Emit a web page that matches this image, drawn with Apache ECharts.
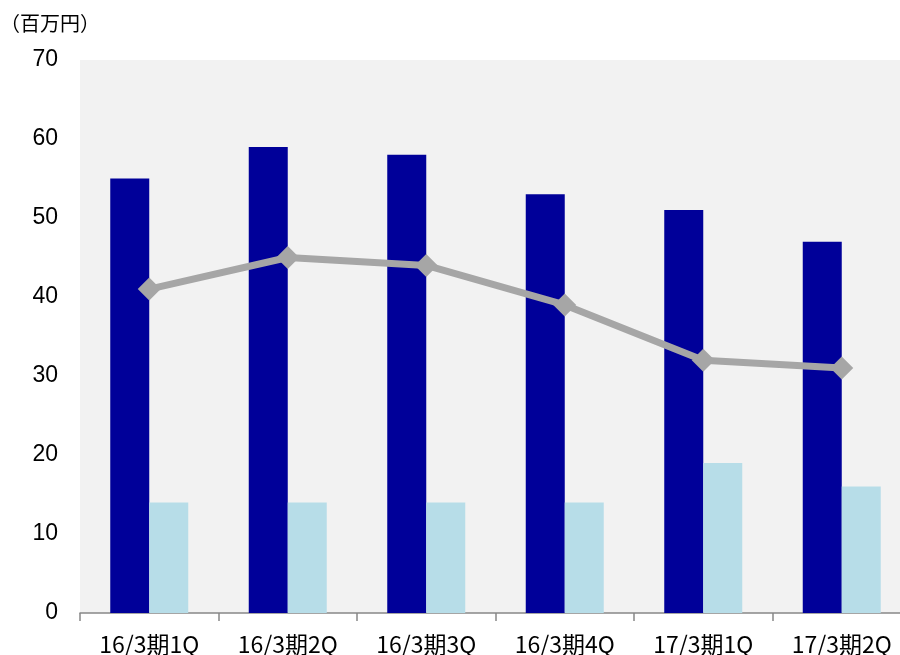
<!DOCTYPE html>
<html>
<head>
<meta charset="utf-8">
<script src="https://cdn.jsdelivr.net/npm/echarts@6/dist/echarts.min.js"></script>
<style>
  html, body { margin: 0; padding: 0; background: #fff; }
  #chart { width: 900px; height: 655px; }
</style>
</head>
<body>
<div id="chart"></div>
<script>
var categories = ['16/3期1Q', '16/3期2Q', '16/3期3Q', '16/3期4Q', '17/3期1Q', '17/3期2Q'];
var darkBars = [55, 59, 58, 53, 51, 47];
var lightBars = [14, 14, 14, 14, 19, 16];
var lineValues = [41, 45, 44, 39, 32, 31];

var myChart = echarts.init(document.getElementById('chart'));

option = {
    animation: false,
    title: {
        text: '（百万円）',
        left: 0,
        top: 13,
        padding: 0,
        textStyle: {
            fontSize: 20,
            fontWeight: 'normal',
            fontFamily: '"Noto Sans CJK JP"',
            color: '#000'
        }
    },
    grid: {
        left: 80,
        width: 831,
        top: 60,
        height: 553,
        outerBoundsMode: 'none',
        show: true,
        backgroundColor: '#f2f2f2',
        borderWidth: 0
    },
    xAxis: {
        type: 'category',
        data: categories,
        axisLine: { lineStyle: { color: '#888', width: 1.5 } },
        axisTick: { show: true, length: 8, lineStyle: { color: '#888', width: 1.5 } },
        axisLabel: {
            color: '#000',
            fontSize: 23,
            fontFamily: '"Noto Sans CJK JP"',
            margin: 20
        }
    },
    yAxis: {
        type: 'value',
        min: 0,
        max: 70,
        interval: 10,
        splitLine: { show: false },
        axisLine: { show: false },
        axisTick: { show: false },
        axisLabel: {
            color: '#000',
            fontSize: 23,
            fontFamily: '"Liberation Sans", Arial',
            margin: 22
        }
    },
    series: [
        {
            type: 'bar',
            data: darkBars,
            barWidth: 39,
            barGap: '0%',
            itemStyle: { color: '#000099' }
        },
        {
            type: 'bar',
            data: lightBars,
            barWidth: 39,
            barGap: '0%',
            itemStyle: { color: '#b7dde8' }
        },
        {
            type: 'line',
            data: lineValues,
            symbol: 'diamond',
            symbolSize: [23, 23],
            lineStyle: { color: '#a6a6a6', width: 7 },
            itemStyle: { color: '#a6a6a6' },
            z: 5
        }
    ]
};

myChart.setOption(option);
</script>
</body>
</html>
